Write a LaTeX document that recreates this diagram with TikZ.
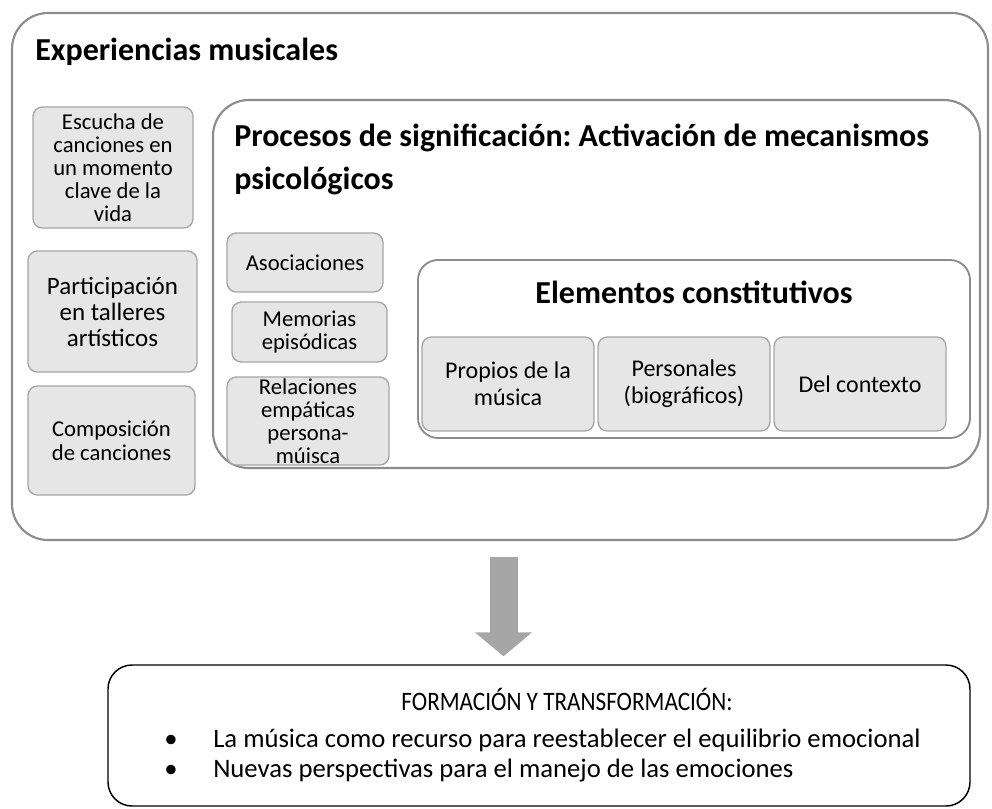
\documentclass[tikz,border=0pt]{standalone}
\usepackage{fontspec}
\usepackage{graphicx}
\setmainfont{Carlito}
\frenchspacing
\usetikzlibrary{fit,arrows.meta}
\definecolor{framegray}{HTML}{8C8C8C}
\definecolor{boxline}{HTML}{A6A6A6}
\definecolor{boxfill}{HTML}{E6E6E6}
\definecolor{arrowgray}{HTML}{A6A6A6}
\begin{document}
\begin{tikzpicture}[x=0.75pt,y=-0.75pt,
  framebox/.style={draw=framegray, line width=1.6pt, rounded corners=27pt, inner sep=0pt},
  innerframe/.style={draw=framegray, line width=1.4pt, rounded corners=15pt, inner sep=0pt},
  smallbox/.style={draw=boxline, fill=boxfill, line width=1pt, rounded corners=7pt, inner sep=0pt, align=center},
  boxsize/.style 2 args={minimum width=#1*0.75pt, minimum height=#2*0.75pt},
  boxtext/.style={font=\fontsize{17}{17.25}\selectfont},
  title/.style={font=\bfseries\fontsize{24}{30}\selectfont, inner sep=0pt},
  resultbox/.style={draw=black, line width=1.1pt, rounded corners=18pt, inner sep=0pt},
  resultfont/.style={font=\fontsize{20}{24}\selectfont, inner sep=0pt},
  bigarrow/.style={draw=arrowgray, line width=21pt, -{Triangle[width=42pt,length=18pt]}, shorten >=6pt}]
\useasboundingbox (0,0) rectangle (992,808);
% outer frame
\node[framebox, fit={(12,13) (988,540)}] (experiencias) {};
\node[title, anchor=base west] (exptitle) at (35,60) {Experiencias musicales};
\node[smallbox, boxtext, boxsize={160}{121}] (escucha) at (113,167.5) {Escucha de\\canciones en\\un momento\\clave de la\\vida};
\node[smallbox, font=\fontsize{18.75}{19.5}\selectfont, boxsize={169}{121}] (talleres) at (112.5,311.5) {Participación\\en talleres\\artísticos};
\node[smallbox, font=\fontsize{17}{18}\selectfont, boxsize={167}{109}] (composicion) at (111.5,440.5) {Composición\\de canciones};
% procesos de significacion
\node[framebox, fit={(213,100) (980,468)}] (procesos) {};
\node[title, anchor=west, align=left, font=\bfseries\fontsize{24}{32.25}\selectfont] (proctitle) at (234,159) {Procesos de significación: Activación de mecanismos\\psicológicos};
\node[smallbox, boxtext, boxsize={156}{59}] (asociaciones) at (305,262.5) {Asociaciones};
\node[smallbox, boxtext, boxsize={155}{60}] (memorias) at (309.5,332) {Memorias\\episódicas};
\node[smallbox, boxsize={162}{88}] (relaciones) at (308,421) {};
\node[boxtext, align=center, inner sep=0pt] (relacionestext) at (relaciones.center) {Relaciones\\empáticas\\persona-\\múisca};
% elementos constitutivos
\node[innerframe, fit={(418,260) (970,438)}] (elementos) {};
\node[title] (elemtitle) at (694,292) {Elementos constitutivos};
\node[smallbox, font=\fontsize{18}{20.25}\selectfont, boxsize={172}{94}] (propios) at (508,384) {Propios de la\\música};
\node[smallbox, font=\fontsize{18}{20.25}\selectfont, boxsize={172}{94}] (personales) at (684,384) {Personales\\(biográficos)};
\node[smallbox, font=\fontsize{18}{20.25}\selectfont, boxsize={172}{94}] (contexto) at (860,384) {Del contexto};
% resultado
\node[resultbox, fit={(108,665) (970,806)}] (result) {};
\coordinate (arrowtop) at (503.5,557);
\draw[bigarrow] (arrowtop) -- (arrowtop |- result.north);
\node[resultfont, anchor=base] (resulthead) at (567,710) {\scalebox{0.87}[1]{FORMACIÓN Y TRANSFORMACIÓN:}};
\foreach \y/\txt [count=\i] in {747/{La música como recurso para reestablecer el equilibrio emocional},
                               777/{Nuevas perspectivas para el manejo de las emociones}}
  \node[resultfont, anchor=base west] (item\i) at (164,\y) {\makebox[36.75pt][l]{\textbullet}\txt};
\end{tikzpicture}
\end{document}
